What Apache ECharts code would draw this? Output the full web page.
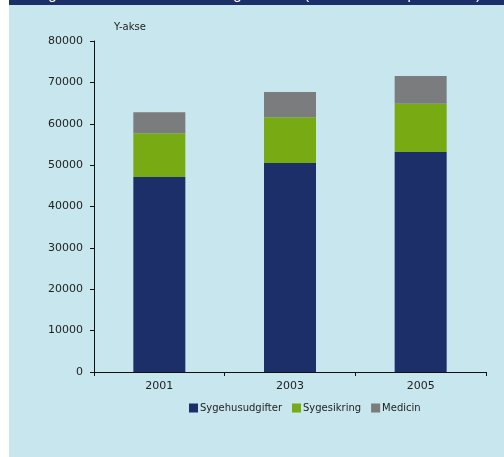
<!DOCTYPE html>
<html>
<head>
<meta charset="utf-8">
<script src="https://cdn.jsdelivr.net/npm/echarts@6/dist/echarts.min.js"></script>
<style>
html,body{margin:0;padding:0;background:#ffffff;}
#chart{width:504px;height:457px;}
</style>
</head>
<body>
<div id="chart"></div>
<script>
var years = ['2001', '2003', '2005'];
var sygehusudgifter = [47100, 50500, 53200];
var sygesikring = [10600, 11100, 11650];
var medicin = [5100, 6050, 6700];
var seriesNames = ['Sygehusudgifter', 'Sygesikring', 'Medicin'];
var yTicks = [0, 10000, 20000, 30000, 40000, 50000, 60000, 70000, 80000];
var titleText = 'Udgifter til sundhedsområdet og sektorer (mio. kr. i 2005-prisniveau)';

var chart = echarts.init(document.getElementById('chart'), null, {renderer: 'canvas'});
var font = 'DejaVu Sans';
var option = {
  backgroundColor: '#ffffff',
  animation: false,
  graphic: [
    {type: 'rect', z: -10, shape: {x: 9, y: 0, width: 495, height: 457}, style: {fill: '#c8e6ee'}},
    {type: 'rect', z: -9, shape: {x: 9, y: 0, width: 495, height: 5}, style: {fill: '#1c2f68'}},
    {type: 'text', z: -8, left: 29, top: -13, style: {text: titleText, fill: '#ffffff', font: '15px Arial'}}
  ],
  grid: {left: 94, right: 18, top: 41, bottom: 85, containLabel: false},
  legend: {
    data: seriesNames,
    left: 184, top: 398,
    itemWidth: 9, itemHeight: 9, itemGap: 10,
    icon: 'rect',
    textStyle: {fontFamily: font, fontSize: 10, color: '#222222', padding: [0, 0, 0, -3]}
  },
  xAxis: {
    type: 'category',
    data: years,
    axisLine: {lineStyle: {color: '#111111', width: 1}},
    axisTick: {show: true, length: 4, lineStyle: {color: '#111111'}},
    axisLabel: {fontFamily: font, fontSize: 11, color: '#222222', margin: 9}
  },
  yAxis: {
    type: 'value',
    min: 0, max: 80000, interval: 10000,
    name: 'Y-akse',
    nameLocation: 'end',
    nameGap: 9,
    nameTextStyle: {fontFamily: font, fontSize: 10, color: '#222222', align: 'left', padding: [0, 0, 0, 20]},
    axisLine: {show: true, lineStyle: {color: '#111111', width: 1}},
    axisTick: {show: true, length: 4, lineStyle: {color: '#111111'}},
    splitLine: {show: false},
    axisLabel: {fontFamily: font, fontSize: 11, color: '#222222', margin: 11,
      formatter: function (v) { return yTicks.indexOf(v) >= 0 ? String(v) : ''; }}
  },
  series: [
    {name: seriesNames[0], type: 'bar', stack: 'a', data: sygehusudgifter, barWidth: 52, itemStyle: {color: '#1c2f68'}},
    {name: seriesNames[1], type: 'bar', stack: 'a', data: sygesikring, barWidth: 52, itemStyle: {color: '#78aa14'}},
    {name: seriesNames[2], type: 'bar', stack: 'a', data: medicin, barWidth: 52, itemStyle: {color: '#7a7c7d'}}
  ]
};
chart.setOption(option);
</script>
</body>
</html>
